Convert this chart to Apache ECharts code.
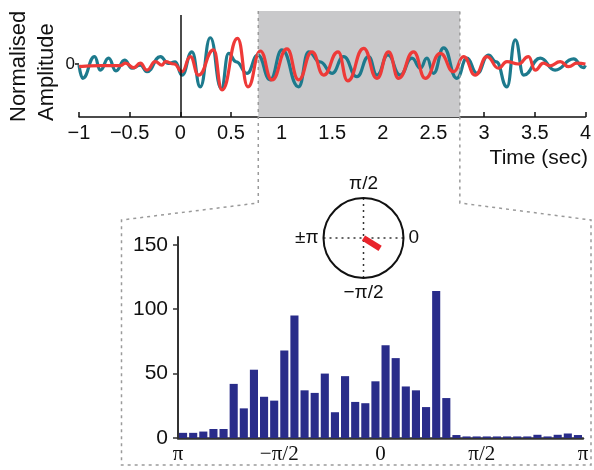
<!DOCTYPE html>
<html><head><meta charset="utf-8">
<script src="https://cdn.jsdelivr.net/npm/echarts@6/dist/echarts.min.js"></script>
<style>html,body{margin:0;padding:0;background:#fff}#c{width:594px;height:470px}</style>
</head><body><div id="c"></div>
<script>
// ---- Top panel: normalised amplitude traces (extrema) ----
const timeTeal = [-1.0,-0.964,-0.846,-0.79,-0.708,-0.635,-0.55,-0.477,-0.395,-0.329,-0.197,-0.118,-0.05,0.017,0.115,0.197,0.296,0.405,0.477,0.553,0.658,0.765,0.888,1.004,1.168,1.267,1.38,1.498,1.612,1.744,1.859,1.942,2.05,2.17,2.287,2.37,2.435,2.5,2.6,2.73,2.83,2.93,3.043,3.12,3.225,3.307,3.39,3.554,3.70,3.883,3.98,4.0];
const ampTeal  = [-0.04,-0.54,0.28,-0.23,0.22,-0.26,0.15,-0.16,-0.04,-0.29,0.28,0.02,0.08,-0.42,0.46,-0.86,0.99,-0.92,0.40,0.08,-0.35,0.34,-0.60,0.53,-0.86,0.46,0.08,-0.35,0.28,-0.48,0.28,-0.42,0.34,-0.42,0.22,-0.16,0.22,-0.35,0.61,-0.54,0.22,-0.35,0.34,0.08,-0.86,0.91,-0.42,0.22,-0.23,0.19,-0.14,-0.05];
const timeRed = [-1.0,-0.79,-0.59,-0.543,-0.46,-0.395,-0.329,-0.247,-0.18,-0.148,-0.06,0.017,0.099,0.18,0.329,0.412,0.565,0.668,0.79,0.905,1.053,1.168,1.30,1.415,1.557,1.653,1.81,1.942,2.056,2.155,2.303,2.419,2.567,2.698,2.797,2.912,3.028,3.142,3.225,3.337,3.438,3.504,3.586,3.65,3.751,3.833,3.916,4.0];
const ampRed  = [-0.10,-0.06,-0.06,0.03,-0.14,0.03,-0.23,0.09,-0.04,0.09,0.0,-0.29,0.28,-0.42,0.53,-0.98,0.97,-0.86,0.49,-0.60,0.57,-0.60,0.46,-0.42,0.46,-0.64,0.59,-0.54,0.46,-0.54,0.46,-0.54,0.40,-0.29,0.28,-0.42,0.28,-0.16,0.09,0.0,0.28,-0.23,0.03,-0.07,0.09,-0.10,0.03,0.0];
const timeTicks = [-1,-0.5,0,0.5,1,1.5,2,2.5,3,3.5,4];
const shadeStart = 0.77, shadeEnd = 2.76;
const stimulusTime = 0;

// ---- Bottom panel: phase histogram (40 bins from -pi to pi) ----
const phaseCounts = [4,4,5,7,7,42,23,53,32,29,68,95,37,35,50,20,48,28,27,44,72,62,40,37,24,114,31,2.3,1.2,1.2,1.2,1.2,1.2,1.2,1.2,2.5,1.2,2.5,3.5,2.3];
const phaseTickLabels = ['π','−π/2','0','π/2','π'];
const countTicks = [0,50,100,150];

// ---- Inset: mean phase vector ----
const meanPhaseDeg = -32;
const meanVectorLength = 0.49;
const polarTickLabels = ['0','π/2','±π','−π/2'];

const nBins = phaseCounts.length;
const binW = 2*Math.PI/nBins;
const histData = phaseCounts.map((v,i)=>[-Math.PI+(i+0.5)*binW, v]);
const phaseTickVals = [-Math.PI,-Math.PI/2,0,Math.PI/2,Math.PI];

const SANS = 'Liberation Sans, Arial, Helvetica, sans-serif';
const SERIF = 'Liberation Serif, Times New Roman, serif';

const chart = echarts.init(document.getElementById('c'), null, {renderer:'canvas'});
const option = {
  animation:false,
  backgroundColor:'#fff',
  grid:[
    {left:79, right:8, top:11, height:106},
    {left:178, right:11, top:237, bottom:32}
  ],
  polar:{center:[363.5,238], radius:40},
  xAxis:[
    {type:'value', gridIndex:0, min:-1, max:4, interval:0.5,
     axisLine:{onZero:false, lineStyle:{color:'#111', width:1.5}},
     axisTick:{inside:true, length:5, lineStyle:{color:'#111', width:1.5}},
     axisLabel:{color:'#111', fontSize:20, fontFamily:SANS, margin:6,
       formatter:v=>String(v).replace('-','−')},
     splitLine:{show:false}},
    {type:'value', gridIndex:1, min:-Math.PI, max:Math.PI,
     axisLine:{onZero:false, lineStyle:{color:'#333', width:2.5}},
     axisTick:{show:false},
     axisLabel:{color:'#111', fontSize:21, fontFamily:SERIF, margin:6,
       customValues:phaseTickVals,
       formatter:v=>phaseTickLabels[Math.round(v/(Math.PI/2))+2]},
     splitLine:{show:false}}
  ],
  yAxis:[
    {type:'value', gridIndex:0, min:-2, max:2,
     axisLine:{show:false, onZero:false},
     axisTick:{show:true, length:4, customValues:[0], lineStyle:{color:'#111', width:1.5}},
     axisLabel:{color:'#111', fontSize:17, fontFamily:SANS, margin:4, customValues:[0]},
     splitLine:{show:false}},
    {type:'value', gridIndex:1, min:0, max:156,
     axisLine:{show:true, onZero:false, lineStyle:{color:'#333', width:2}},
     axisTick:{show:true, length:5, customValues:countTicks, lineStyle:{color:'#333', width:1.5}},
     axisLabel:{color:'#111', fontSize:21, fontFamily:SANS, margin:10, customValues:countTicks},
     splitLine:{show:false}}
  ],
  angleAxis:{type:'value', min:0, max:360, interval:90, startAngle:0, clockwise:false,
    axisLine:{lineStyle:{color:'#111', width:2}},
    axisTick:{show:false},
    axisLabel:{color:'#111', fontSize:19, fontFamily:SANS, margin:5,
      formatter:v=> (v>=360? '' : polarTickLabels[Math.round(v/90)])},
    splitLine:{show:true, lineStyle:{color:'#333', width:1.5, type:[2,4]}}},
  radiusAxis:{min:0, max:1, axisLine:{show:false}, axisTick:{show:false}, axisLabel:{show:false}, splitLine:{show:false}},
  series:[
    {type:'line', xAxisIndex:0, yAxisIndex:0, data:timeTeal.map((t,i)=>[t,ampTeal[i]]),
     showSymbol:false, symbol:'none', smooth:0.5, smoothMonotone:'x',
     lineStyle:{color:'#1d7a8d', width:3.2}, z:3,
     markArea:{silent:true, itemStyle:{color:'#c9c9cb'},
       data:[[{xAxis:shadeStart},{xAxis:shadeEnd}]]},
     markLine:{silent:true, symbol:'none', label:{show:false},
       lineStyle:{color:'#111', width:1.5, type:'solid'},
       data:[[{coord:[stimulusTime,1.85]},{coord:[stimulusTime,-2]}]]}},
    {type:'line', xAxisIndex:0, yAxisIndex:0, data:timeRed.map((t,i)=>[t,ampRed[i]]),
     showSymbol:false, symbol:'none', smooth:0.5, smoothMonotone:'x',
     lineStyle:{color:'#ee3a38', width:3.2}, z:4},
    {type:'bar', xAxisIndex:1, yAxisIndex:1, data:histData, barWidth:'80%',
     itemStyle:{color:'#292c8a'}},
    {type:'line', coordinateSystem:'polar', data:[[0,(meanPhaseDeg+360)%360],[meanVectorLength,(meanPhaseDeg+360)%360]],
     symbol:'none', lineStyle:{color:'#e8232b', width:6, cap:'butt'}, z:5}
  ]
};
chart.setOption(option);

// decoration: dashed zoom-box linking the shaded window to the histogram
const x0 = chart.convertToPixel({xAxisIndex:0}, shadeStart);
const x1 = chart.convertToPixel({xAxisIndex:0}, shadeEnd);
const yTop = chart.convertToPixel({yAxisIndex:0}, 2);
const dash = {stroke:'#9a9a9a', lineWidth:1.5, lineDash:[3,4], fill:null};
chart.setOption({graphic:[
  {type:'polyline', silent:true, z:50, shape:{points:[[x0,yTop],[x0,203],[121.5,220],[121.5,465],[591,465],[591,220],[x1,203],[x1,yTop]]}, style:dash},
  {type:'text', silent:true, z:50, style:{text:'Time (sec)', x:588, y:158, align:'right', textAlign:'right', verticalAlign:'middle', textVerticalAlign:'middle', font:'21px '+SANS, fill:'#111'}},
  {type:'text', silent:true, z:50, x:19, y:122, rotation:Math.PI/2, style:{text:'Normalised', x:0, y:0, align:'left', textAlign:'left', verticalAlign:'middle', textVerticalAlign:'middle', font:'22px '+SANS, fill:'#111'}},
  {type:'text', silent:true, z:50, x:47, y:121, rotation:Math.PI/2, style:{text:'Amplitude', x:0, y:0, align:'left', textAlign:'left', verticalAlign:'middle', textVerticalAlign:'middle', font:'22px '+SANS, fill:'#111'}}
]});
</script>
</body></html>
